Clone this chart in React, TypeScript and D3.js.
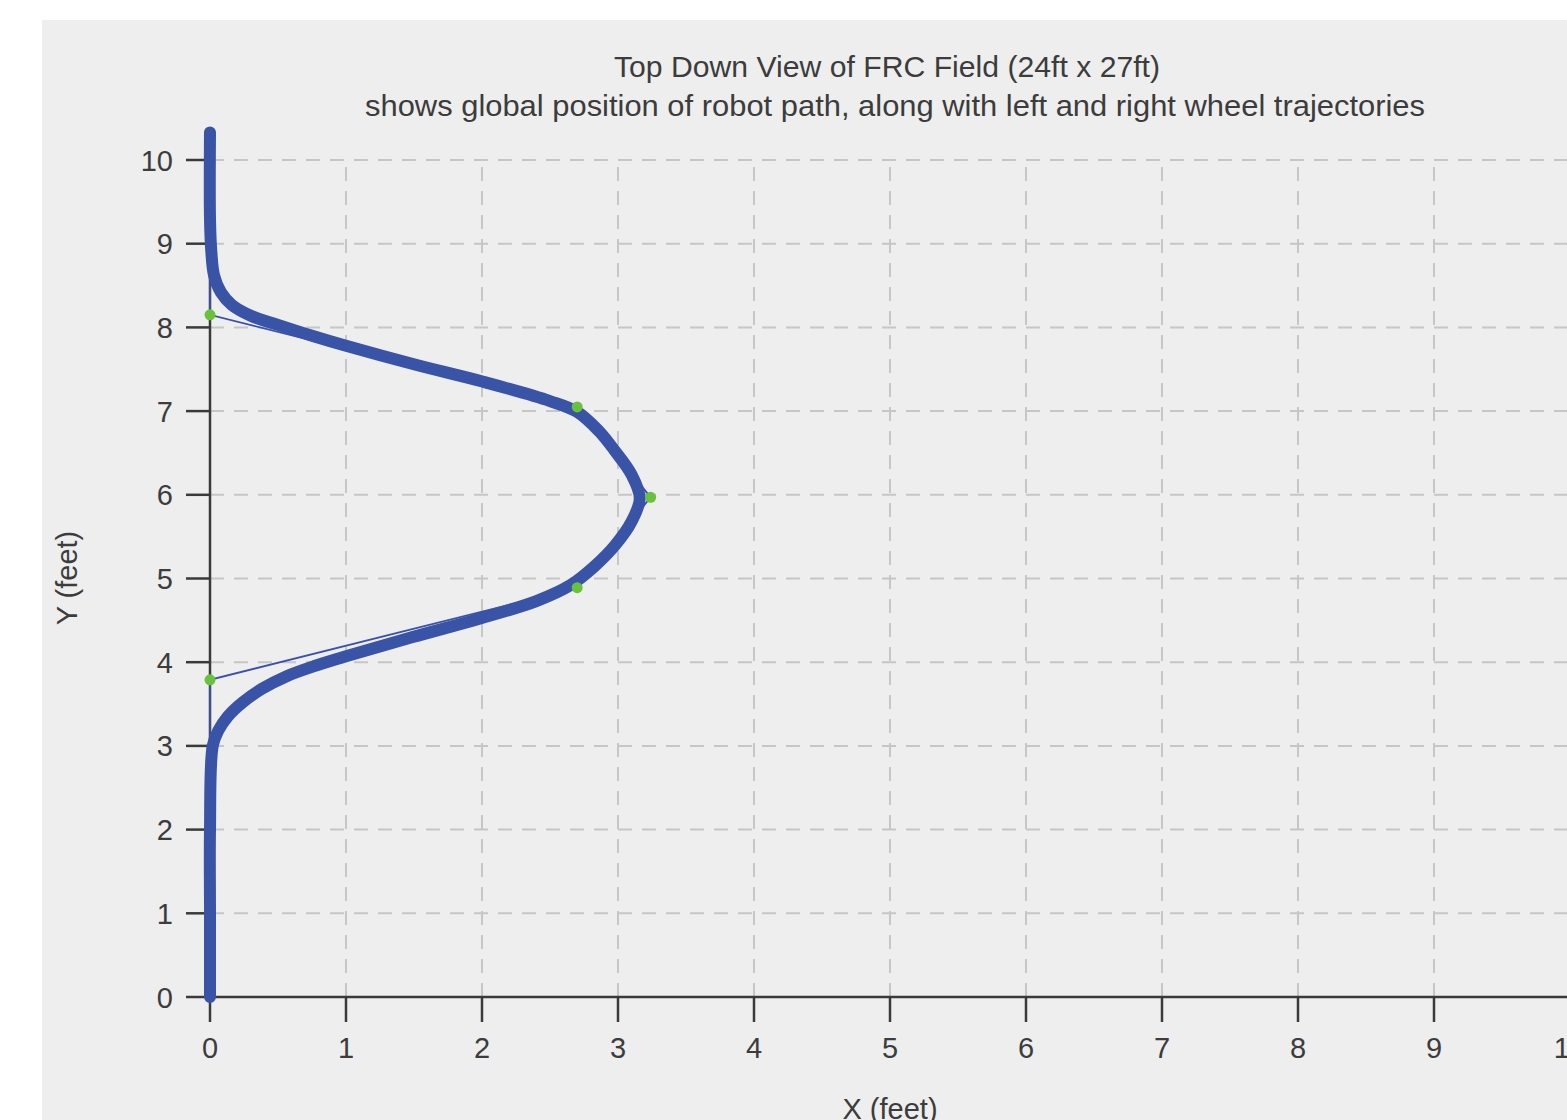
import React from "react";
import * as d3 from "d3";

const titleLines = [
  "Top Down View of FRC Field (24ft x 27ft)",
  "shows global position of robot path, along with left and right wheel trajectories",
];
const xLabel = "X (feet)";
const yLabel = "Y (feet)";
const xTicks = [0, 1, 2, 3, 4, 5, 6, 7, 8, 9, 10];
const yTicks = [0, 1, 2, 3, 4, 5, 6, 7, 8, 9, 10];

// smooth robot path (x, y) in feet
const pathX = [0, 0, 0, 0.02, 0.06, 0.13, 0.24, 0.38, 0.56, 0.78, 1.0, 1.49, 1.98, 2.4, 2.65, 2.83, 2.98, 3.1, 3.16, 3.1, 2.97, 2.86, 2.7, 2.5, 2.01, 1.52, 1.0, 0.75, 0.5, 0.3, 0.16, 0.08, 0.03, 0.01, 0, 0];
const pathY = [0, 1, 2, 3.0, 3.18, 3.35, 3.52, 3.68, 3.83, 3.96, 4.07, 4.3, 4.52, 4.73, 4.92, 5.15, 5.4, 5.68, 5.96, 6.24, 6.54, 6.76, 6.99, 7.12, 7.35, 7.55, 7.78, 7.9, 8.03, 8.14, 8.27, 8.42, 8.62, 8.9, 9.3, 10.33];

// waypoints (node-only path)
const nodeX = [0, 0, 2.7, 3.24, 2.7, 0, 0];
const nodeY = [0, 3.79, 4.89, 5.97, 7.05, 8.15, 10.33];
const markerIdx = [1, 2, 3, 4, 5];

const W = 1567;
const H = 1120;
const FONT = "'Liberation Sans', Arial, Helvetica, sans-serif";
const TEXT = "#3c3c3c";
const AXIS = "#3a3a3a";

export default function App() {
  const x = d3.scaleLinear().domain([0, 10]).range([210, 1570]);
  const y = d3.scaleLinear().domain([0, 10]).range([997, 160]);

  const pathPts: [number, number][] = pathX.map((v, i) => [v, pathY[i]]);
  const nodePts: [number, number][] = nodeX.map((v, i) => [v, nodeY[i]]);

  const smooth = d3
    .line<[number, number]>()
    .x((d) => x(d[0]))
    .y((d) => y(d[1]))
    .curve(d3.curveCatmullRom.alpha(0.5));
  const straight = d3
    .line<[number, number]>()
    .x((d) => x(d[0]))
    .y((d) => y(d[1]));

  const [x0, x1] = x.range();
  const [y0, y1] = y.range();

  return (
    <svg
      width={W}
      height={H}
      style={{ position: "absolute", left: 0, top: 0 }}
      fontFamily={FONT}
    >
      <rect x={0} y={0} width={W} height={H} fill="#ffffff" />
      <rect x={42} y={20} width={W - 42} height={H - 20} fill="#edeeed" />

      {/* title */}
      <text
        x={887}
        y={77}
        textAnchor="middle"
        fontSize={29}
        fill={TEXT}
        textLength={546}
        lengthAdjust="spacingAndGlyphs"
      >
        {titleLines[0]}
      </text>
      <text
        x={895}
        y={116}
        textAnchor="middle"
        fontSize={29}
        fill={TEXT}
        textLength={1060}
        lengthAdjust="spacingAndGlyphs"
      >
        {titleLines[1]}
      </text>

      {/* grid */}
      {yTicks
        .filter((t) => t !== 0)
        .map((t) => (
          <line
            key={"gy" + t}
            x1={x0}
            x2={x1 + 20}
            y1={y(t)}
            y2={y(t)}
            stroke="#c6c6c6"
            strokeWidth={2}
            strokeDasharray="14 10"
          />
        ))}
      {xTicks
        .filter((t) => t !== 0)
        .map((t) => (
          <line
            key={"gx" + t}
            x1={x(t)}
            x2={x(t)}
            y1={y0}
            y2={y1}
            stroke="#c6c6c6"
            strokeWidth={2}
            strokeDasharray="14 10"
          />
        ))}

      {/* axes */}
      <line x1={x0} x2={x1 + 20} y1={y0} y2={y0} stroke={AXIS} strokeWidth={2.5} />
      <line x1={x0} x2={x0} y1={y0} y2={y1} stroke={AXIS} strokeWidth={2.5} />
      {xTicks.map((t) => (
        <g key={"xt" + t}>
          <line x1={x(t)} x2={x(t)} y1={y0} y2={y0 + 25} stroke={AXIS} strokeWidth={2.5} />
          <text x={x(t)} y={1058} textAnchor="middle" fontSize={29} fill={TEXT}>
            {t}
          </text>
        </g>
      ))}
      {yTicks.map((t) => (
        <g key={"yt" + t}>
          <line x1={x0 - 24} x2={x0} y1={y(t)} y2={y(t)} stroke={AXIS} strokeWidth={2.5} />
          <text x={173} y={y(t) + 10.5} textAnchor="end" fontSize={29} fill={TEXT}>
            {t}
          </text>
        </g>
      ))}
      <text x={890} y={1119} textAnchor="middle" fontSize={29} fill={TEXT}>
        {xLabel}
      </text>
      <text
        transform={`translate(77, ${578}) rotate(-90)`}
        textAnchor="middle"
        fontSize={29}
        fill={TEXT}
      >
        {yLabel}
      </text>

      {/* node-only path */}
      <path d={straight(nodePts) || ""} fill="none" stroke="#3b4fb0" strokeWidth={1.8} />

      {/* robot path */}
      <path
        d={smooth(pathPts) || ""}
        fill="none"
        stroke="#3953a6"
        strokeWidth={12}
        strokeLinecap="round"
        strokeLinejoin="round"
      />

      {/* waypoints */}
      {markerIdx.map((i) => (
        <circle key={"m" + i} cx={x(nodeX[i])} cy={y(nodeY[i])} r={5.5} fill="#68c23c" />
      ))}
    </svg>
  );
}
